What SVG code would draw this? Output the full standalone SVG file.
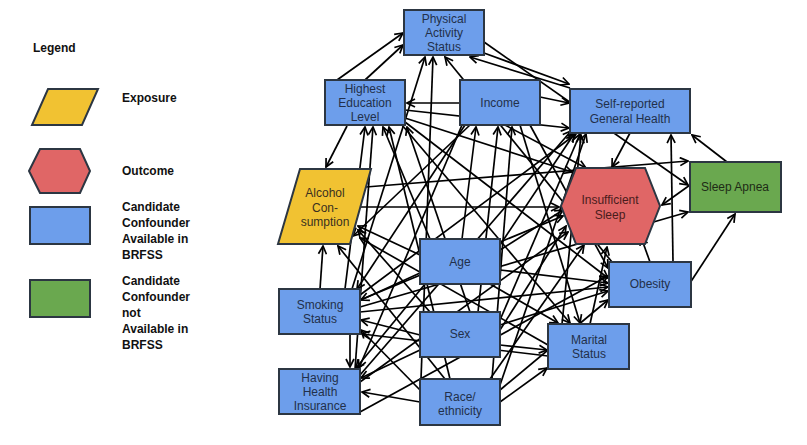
<svg xmlns="http://www.w3.org/2000/svg" width="807" height="445" viewBox="0 0 807 445">
<style>
text{font-family:"Liberation Sans",Arial,sans-serif;font-size:12px;fill:#22304a;text-anchor:middle}
.lg{font-weight:bold;fill:#111;text-anchor:start}
.b{fill:#6d9eeb;stroke:#2c3642;stroke-width:2}
.g{fill:#6aa84f;stroke:#2c3642;stroke-width:2}
.y{fill:#f1c232;stroke:#2c3642;stroke-width:2}
.r{fill:#e06666;stroke:#2c3642;stroke-width:2}
#edges line{stroke:#000;stroke-width:1.7;marker-end:url(#a)}
</style>
<defs>
<marker id="a" viewBox="0 0 10 10" refX="9" refY="5" markerWidth="10" markerHeight="10" markerUnits="userSpaceOnUse" orient="auto">
<path d="M1,1 L9,5 L1,9" fill="none" stroke="#000" stroke-width="1.7"/>
</marker>
</defs>
<rect width="807" height="445" fill="#fff"/>
<g id="legend">
<text class="lg" x="33" y="52">Legend</text>
<polygon class="y" points="48,89 98,89 82,125 32,125"/>
<text class="lg" x="122" y="102">Exposure</text>
<polygon class="r" points="29,171 40,149 80,149 90,171 80,193 40,193"/>
<text class="lg" x="122" y="175">Outcome</text>
<rect class="b" x="30" y="207" width="60" height="37"/>
<text class="lg" x="122" y="211">Candidate</text>
<text class="lg" x="122" y="227">Confounder</text>
<text class="lg" x="122" y="243">Available in</text>
<text class="lg" x="122" y="259">BRFSS</text>
<rect class="g" x="30" y="280" width="60" height="37"/>
<text class="lg" x="122" y="285">Candidate</text>
<text class="lg" x="122" y="301">Confounder</text>
<text class="lg" x="122" y="317">not</text>
<text class="lg" x="122" y="333">Available in</text>
<text class="lg" x="122" y="349">BRFSS</text>
</g>
<g id="edges">
<line x1="337" y1="80" x2="403" y2="33"/>
<line x1="365" y1="80" x2="403" y2="45"/>
<line x1="352" y1="289" x2="425" y2="57"/>
<line x1="421" y1="379" x2="433" y2="57"/>
<line x1="612" y1="262" x2="445" y2="57"/>
<line x1="570" y1="88" x2="470" y2="57"/>
<line x1="484" y1="42" x2="688" y2="185"/>
<line x1="484" y1="53" x2="569" y2="84"/>
<line x1="460" y1="103" x2="407" y2="103"/>
<line x1="347" y1="126" x2="326" y2="167"/>
<line x1="345" y1="289" x2="365" y2="127"/>
<line x1="355" y1="369" x2="373" y2="127"/>
<line x1="430" y1="239" x2="383" y2="127"/>
<line x1="450" y1="379" x2="389" y2="127"/>
<line x1="470" y1="312" x2="407" y2="127"/>
<line x1="405" y1="110" x2="569" y2="128"/>
<line x1="405" y1="118" x2="572" y2="172"/>
<line x1="405" y1="122" x2="608" y2="278"/>
<line x1="402" y1="125" x2="570" y2="323"/>
<line x1="540" y1="97" x2="569" y2="103"/>
<line x1="505" y1="125" x2="586" y2="168"/>
<line x1="530" y1="125" x2="608" y2="268"/>
<line x1="470" y1="125" x2="353" y2="236"/>
<line x1="465" y1="125" x2="357" y2="289"/>
<line x1="462" y1="125" x2="359" y2="368"/>
<line x1="520" y1="125" x2="580" y2="323"/>
<line x1="462" y1="239" x2="476" y2="127"/>
<line x1="478" y1="312" x2="498" y2="127"/>
<line x1="492" y1="379" x2="512" y2="127"/>
<line x1="420" y1="255" x2="358" y2="226"/>
<line x1="500" y1="250" x2="563" y2="210"/>
<line x1="500" y1="245" x2="574" y2="134"/>
<line x1="500" y1="270" x2="608" y2="283"/>
<line x1="490" y1="284" x2="558" y2="323"/>
<line x1="420" y1="273" x2="361" y2="300"/>
<line x1="425" y1="284" x2="356" y2="368"/>
<line x1="430" y1="312" x2="358" y2="230"/>
<line x1="500" y1="330" x2="566" y2="226"/>
<line x1="500" y1="320" x2="580" y2="134"/>
<line x1="500" y1="325" x2="608" y2="291"/>
<line x1="500" y1="345" x2="547" y2="350"/>
<line x1="420" y1="335" x2="361" y2="320"/>
<line x1="420" y1="350" x2="361" y2="378"/>
<line x1="445" y1="379" x2="338" y2="246"/>
<line x1="490" y1="379" x2="584" y2="245"/>
<line x1="500" y1="385" x2="586" y2="134"/>
<line x1="500" y1="390" x2="608" y2="300"/>
<line x1="500" y1="402" x2="547" y2="368"/>
<line x1="420" y1="390" x2="361" y2="330"/>
<line x1="420" y1="402" x2="362" y2="392"/>
<line x1="320" y1="289" x2="323" y2="246"/>
<line x1="360" y1="307" x2="688" y2="212"/>
<line x1="360" y1="300" x2="563" y2="216"/>
<line x1="360" y1="295" x2="576" y2="134"/>
<line x1="360" y1="312" x2="608" y2="287"/>
<line x1="350" y1="334" x2="350" y2="367"/>
<line x1="360" y1="412" x2="608" y2="276"/>
<line x1="360" y1="375" x2="571" y2="131"/>
<line x1="360" y1="382" x2="568" y2="232"/>
<line x1="590" y1="324" x2="607" y2="247"/>
<line x1="548" y1="356" x2="362" y2="334"/>
<line x1="548" y1="345" x2="360" y2="238"/>
<line x1="562" y1="324" x2="581" y2="135"/>
<line x1="650" y1="262" x2="641" y2="237"/>
<line x1="673" y1="262" x2="671" y2="135"/>
<line x1="690" y1="283" x2="735" y2="214"/>
<line x1="630" y1="133" x2="612" y2="167"/>
<line x1="727" y1="162" x2="692" y2="135"/>
<line x1="690" y1="185" x2="662" y2="205"/>
<line x1="366" y1="187" x2="688" y2="161"/>
<line x1="357" y1="207" x2="559" y2="207"/>
</g>
<g id="pas"><rect class="b" x="404" y="10" width="80" height="45"/><text x="444" y="23">Physical</text><text x="444" y="37">Activity</text><text x="444" y="51">Status</text></g>
<g id="hel"><rect class="b" x="325" y="80" width="80" height="45"/><text x="365" y="93">Highest</text><text x="365" y="107">Education</text><text x="365" y="121">Level</text></g>
<g id="inc"><rect class="b" x="460" y="80" width="80" height="45"/><text x="500" y="107">Income</text></g>
<g id="srgh"><rect class="b" x="570" y="89" width="120" height="44"/><text x="630" y="108">Self-reported</text><text x="630" y="123">General Health</text></g>
<g id="sa"><rect class="g" x="690" y="162" width="91" height="50"/><text x="735" y="191" style="fill:#1e2b16">Sleep Apnea</text></g>
<g id="is"><polygon class="r" points="561,206 576,168 645,168 660,206 645,244 576,244"/><text x="610" y="204" style="fill:#4a1c1c">Insufficient</text><text x="610" y="219" style="fill:#4a1c1c">Sleep</text></g>
<g id="alc"><polygon class="y" points="300,169 371,169 350,244 278,244"/><text x="325" y="197" style="fill:#3a3020">Alcohol</text><text x="325" y="212" style="fill:#3a3020">Con-</text><text x="325" y="226" style="fill:#3a3020">sumption</text></g>
<g id="age"><rect class="b" x="420" y="239" width="80" height="45"/><text x="460" y="266">Age</text></g>
<g id="obe"><rect class="b" x="609" y="262" width="82" height="45"/><text x="650" y="288">Obesity</text></g>
<g id="smk"><rect class="b" x="279" y="289" width="81" height="45"/><text x="320" y="309">Smoking</text><text x="320" y="323">Status</text></g>
<g id="sex"><rect class="b" x="420" y="312" width="80" height="45"/><text x="460" y="338">Sex</text></g>
<g id="mar"><rect class="b" x="548" y="324" width="81" height="45"/><text x="589" y="344">Marital</text><text x="589" y="358">Status</text></g>
<g id="hhi"><rect class="b" x="279" y="369" width="81" height="45"/><text x="320" y="382">Having</text><text x="320" y="396">Health</text><text x="320" y="410">Insurance</text></g>
<g id="race"><rect class="b" x="420" y="379" width="80" height="46"/><text x="460" y="401">Race/</text><text x="460" y="415">ethnicity</text></g>
</svg>
